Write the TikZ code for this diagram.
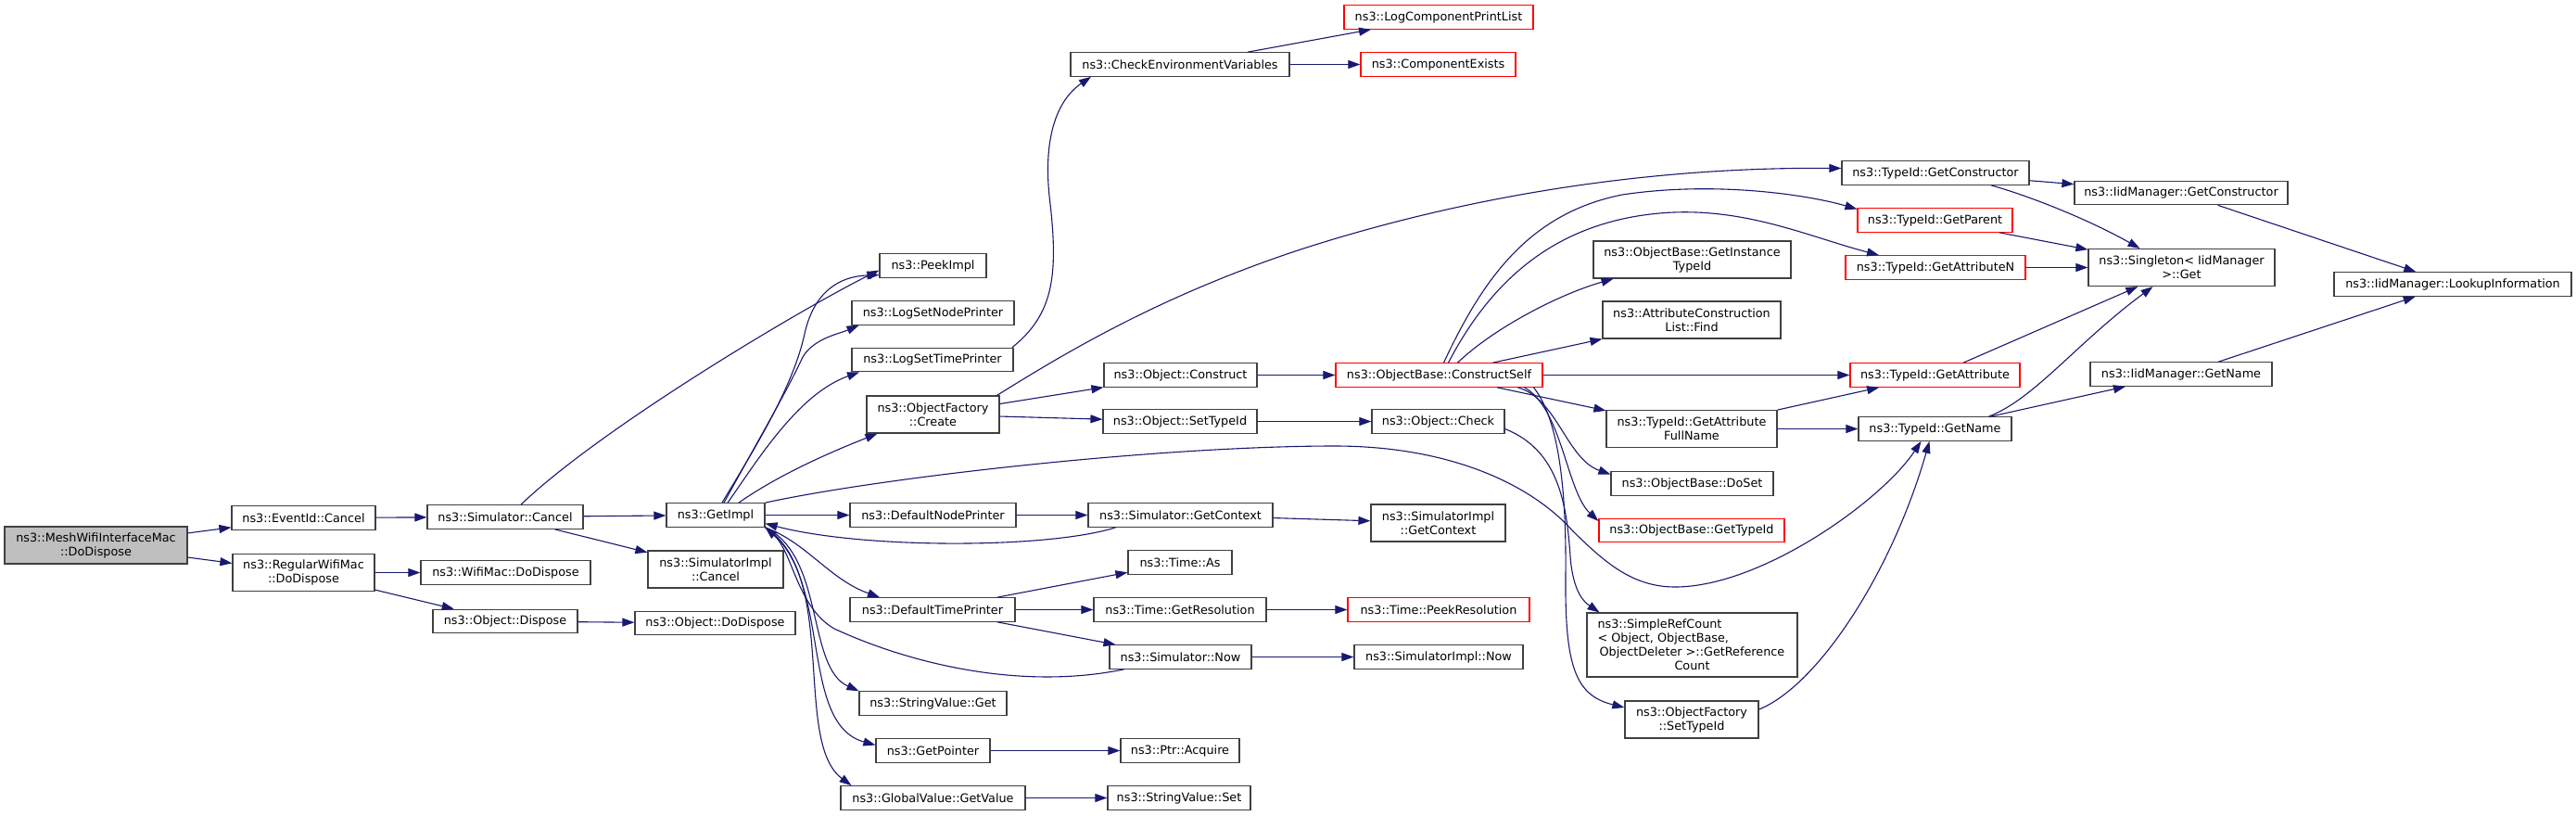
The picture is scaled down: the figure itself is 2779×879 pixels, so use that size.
\documentclass[tikz,border=0pt]{standalone}
\usepackage{fontspec}
\setmainfont{DejaVu Sans}
\usetikzlibrary{arrows.meta}

\definecolor{edgeblue}{RGB}{25,25,112}
\definecolor{boxgray}{RGB}{64,64,64}
\definecolor{rootfill}{RGB}{191,191,191}

\begin{document}
\begin{tikzpicture}[x=1pt, y=-1pt,
	fn/.style={draw=boxgray, line width=1.2pt, fill=white, inner sep=0pt, minimum height=25.5, align=center, font=\fontsize{12.8}{15}\selectfont},
	fnred/.style={fn, draw=red},
	fnroot/.style={fn, fill=rootfill},
	call/.style={draw=edgeblue, line width=1.1pt, -{Triangle[length=13pt, width=9pt]}}]

	\fill[white] (0, 0) rectangle (2779, 879);
	\useasboundingbox (0, 0) rectangle (2779, 879);

	\node[fnroot, minimum width=197, minimum height=40] (mesh) at (103.5, 588) {ns3::MeshWifiInterfaceMac\\::DoDispose};
	\node[fn, minimum width=155] (evcancel) at (327.5, 558.5) {ns3::EventId::Cancel};
	\node[fn, minimum width=153, minimum height=40] (regdispose) at (327.5, 617.5) {ns3::RegularWifiMac\\::DoDispose};
	\node[fn, minimum width=168] (simcancel) at (545, 557.5) {ns3::Simulator::Cancel};
	\node[fn, minimum width=183] (wifidispose) at (545.5, 617.5) {ns3::WifiMac::DoDispose};
	\node[fn, minimum width=156] (objdispose) at (545, 670) {ns3::Object::Dispose};
	\node[fn, minimum width=106] (getimpl) at (772, 555.5) {ns3::GetImpl};
	\node[fn, minimum width=146, minimum height=40] (simimplcancel) at (772, 614) {ns3::SimulatorImpl\\::Cancel};
	\node[fn, minimum width=173] (objdodispose) at (771.5, 672) {ns3::Object::DoDispose};

	\node[fn, minimum width=115] (peekimpl) at (1006.5, 286.5) {ns3::PeekImpl};
	\node[fn, minimum width=175] (logsetnode) at (1006.5, 337.5) {ns3::LogSetNodePrinter};
	\node[fn, minimum width=174] (logsettime) at (1006, 388) {ns3::LogSetTimePrinter};
	\node[fn, minimum width=143, minimum height=40] (ofcreate) at (1006.5, 447) {ns3::ObjectFactory\\::Create};
	\node[fn, minimum width=179] (defnodeprinter) at (1006.5, 555.5) {ns3::DefaultNodePrinter};
	\node[fn, minimum width=178] (deftimeprinter) at (1006, 657.5) {ns3::DefaultTimePrinter};
	\node[fn, minimum width=159] (strget) at (1006.5, 758.5) {ns3::StringValue::Get};
	\node[fn, minimum width=123] (getpointer) at (1006.5, 809.5) {ns3::GetPointer};
	\node[fn, minimum width=199] (globalgetvalue) at (1006.5, 860.5) {ns3::GlobalValue::GetValue};

	\node[fn, minimum width=236] (checkenv) at (1273, 69.5) {ns3::CheckEnvironmentVariables};
	\node[fn, minimum width=165] (objconstruct) at (1273.5, 404.5) {ns3::Object::Construct};
	\node[fn, minimum width=166] (objsettypeid) at (1273, 454.5) {ns3::Object::SetTypeId};
	\node[fn, minimum width=199] (simgetcontext) at (1273.5, 555.5) {ns3::Simulator::GetContext};
	\node[fn, minimum width=112] (timeas) at (1273, 606.5) {ns3::Time::As};
	\node[fn, minimum width=186] (timegetres) at (1273, 657.5) {ns3::Time::GetResolution};
	\node[fn, minimum width=153] (simnow) at (1273.5, 708.5) {ns3::Simulator::Now};
	\node[fn, minimum width=128] (ptracquire) at (1273, 809.5) {ns3::Ptr::Acquire};
	\node[fn, minimum width=154] (strset) at (1272, 860.5) {ns3::StringValue::Set};

	\node[fnred, minimum width=204] (logcomplist) at (1552, 18.5) {ns3::LogComponentPrintList};
	\node[fnred, minimum width=167] (compexists) at (1551.5, 69.5) {ns3::ComponentExists};
	\node[fnred, minimum width=223] (constructself) at (1552.5, 404.5) {ns3::ObjectBase::ConstructSelf};
	\node[fn, minimum width=143] (objcheck) at (1551.5, 454.5) {ns3::Object::Check};
	\node[fn, minimum width=145, minimum height=40] (simimplgetcontext) at (1551.5, 564) {ns3::SimulatorImpl\\::GetContext};
	\node[fnred, minimum width=196] (timepeekres) at (1552, 657.5) {ns3::Time::PeekResolution};
	\node[fn, minimum width=182] (simimplnow) at (1552, 708.5) {ns3::SimulatorImpl::Now};

	\node[fn, minimum width=213, minimum height=40] (getinstancetypeid) at (1825.5, 280) {ns3::ObjectBase::GetInstance\\TypeId};
	\node[fn, minimum width=192, minimum height=40] (attrfind) at (1825, 345) {ns3::AttributeConstruction\\List::Find};
	\node[fn, minimum width=184, minimum height=40] (getattrfullname) at (1825, 462.5) {ns3::TypeId::GetAttribute\\FullName};
	\node[fn, minimum width=175] (doset) at (1825.5, 521.5) {ns3::ObjectBase::DoSet};
	\node[fnred, minimum width=200] (obgettypeid) at (1825, 572) {ns3::ObjectBase::GetTypeId};
	\node[fn, minimum width=227, minimum height=69] (refcount) at (1825.5, 695.5) {\makebox[204pt][l]{ns3::SimpleRefCount}\\\makebox[204pt][l]{< Object, ObjectBase,}\\ObjectDeleter >::GetReference\\Count};
	\node[fn, minimum width=144, minimum height=40] (ofsettypeid) at (1825, 776) {ns3::ObjectFactory\\::SetTypeId};

	\node[fn, minimum width=202] (tgetconstructor) at (2088, 186.5) {ns3::TypeId::GetConstructor};
	\node[fnred, minimum width=167] (tgetparent) at (2087.5, 237.5) {ns3::TypeId::GetParent};
	\node[fnred, minimum width=194] (tgetattrn) at (2088, 288.5) {ns3::TypeId::GetAttributeN};
	\node[fnred, minimum width=183] (tgetattr) at (2087.5, 404.5) {ns3::TypeId::GetAttribute};
	\node[fn, minimum width=165] (tgetname) at (2087.5, 462.5) {ns3::TypeId::GetName};

	\node[fn, minimum width=230] (iidgetconstructor) at (2353, 208) {ns3::IidManager::GetConstructor};
	\node[fn, minimum width=201, minimum height=40] (singleton) at (2353.5, 288.5) {ns3::Singleton< IidManager\\>::Get};
	\node[fn, minimum width=196] (iidgetname) at (2353, 403.5) {ns3::IidManager::GetName};
	\node[fn, minimum width=256] (lookup) at (2646, 306.5) {ns3::IidManager::LookupInformation};

	\draw[call] (mesh) -- (evcancel);
	\draw[call] (mesh) -- (regdispose);
	\draw[call] (evcancel) -- (simcancel);
	\draw[call] (regdispose) -- (wifidispose);
	\draw[call] (regdispose) -- (objdispose);
	\draw[call] (objdispose) -- (objdodispose);
	\draw[call] (simcancel) -- (getimpl);
	\draw[call] (simcancel) -- (simimplcancel);
	\draw[call] ([xshift=17pt]simcancel.north) .. controls (650, 460) and (870, 330) .. ([yshift=-5pt]peekimpl.west);

	\draw[call] ([xshift=7pt]getimpl.north) .. controls (810, 490) and (855, 420) .. (868, 360) .. controls (878, 315) and (905, 298) .. ([yshift=-10pt]peekimpl.west);
	\draw[call] ([xshift=9pt]getimpl.north) .. controls (815, 480) and (850, 420) .. (866, 385) .. controls (878, 365) and (905, 360) .. ([xshift=-80pt]logsetnode.south);
	\draw[call] ([xshift=13pt]getimpl.north) .. controls (815, 500) and (860, 425) .. ([xshift=-79pt]logsettime.south);
	\draw[call] ([xshift=25pt]getimpl.north) .. controls (840, 512) and (895, 488) .. ([xshift=-60pt]ofcreate.south);
	\draw[call] (getimpl) -- (defnodeprinter);
	\draw[call] (getimpl.south east) .. controls (870, 585) and (895, 625) .. ([xshift=-57pt]deftimeprinter.north);
	\draw[call] (getimpl.south east) .. controls (890, 600) and (870, 720) .. (strget.north west);
	\draw[call] (getimpl.south east) .. controls (900, 620) and (860, 780) .. ([yshift=6pt]getpointer.west);
	\draw[call] (getimpl.south east) .. controls (905, 620) and (855, 800) .. ([xshift=-88pt]globalgetvalue.north);
	\draw[call] (getimpl.north east) .. controls (950, 515) and (1250, 481) .. (1440, 481) .. controls (1560, 481) and (1650, 520) .. (1697, 573) .. controls (1730, 605) and (1760, 633) .. (1807, 633) .. controls (1900, 633) and (2030, 540) .. ([xshift=-15pt]tgetname.south);

	\draw[call] (defnodeprinter) -- (simgetcontext);
	\draw[call] (simgetcontext) -- (simimplgetcontext);
	\draw[call] ([xshift=-70pt]simgetcontext.south) .. controls (1130, 592) and (930, 592) .. ([yshift=-9pt]getimpl.east);
	\draw[call] (deftimeprinter) -- (timeas);
	\draw[call] (deftimeprinter) -- (timegetres);
	\draw[call] (deftimeprinter) -- (simnow);
	\draw[call] (timegetres) -- (timepeekres);
	\draw[call] (simnow) -- (simimplnow);
	\draw[call] ([xshift=-61pt]simnow.south) .. controls (1100, 745) and (980, 715) .. (900, 678) .. controls (860, 655) and (855, 595) .. (getimpl.south east);
	\draw[call] (getpointer) -- (ptracquire);
	\draw[call] (globalgetvalue) -- (strset);

	\draw[call] ([xshift=86pt]logsettime.north) .. controls (1135, 340) and (1142, 300) .. (1133, 220) .. controls (1124, 150) and (1140, 108) .. ([xshift=-96pt]checkenv.south);
	\draw[call] (checkenv) -- (logcomplist);
	\draw[call] (checkenv) -- (compexists);
	\draw[call] (ofcreate) -- (objconstruct);
	\draw[call] (ofcreate) -- (objsettypeid);
	\draw[call] ([xshift=69pt]ofcreate.north) .. controls (1150, 380) and (1250, 320) .. (1400, 270) .. controls (1600, 205) and (1800, 180) .. ([yshift=5pt]tgetconstructor.west);
	\draw[call] (objconstruct) -- (constructself);
	\draw[call] (objsettypeid) -- (objcheck);
	\draw[call] ([yshift=-8pt]objcheck.east) .. controls (1680, 485) and (1690, 540) .. (1694, 600) .. controls (1697, 640) and (1710, 650) .. ([xshift=-100pt]refcount.north);

	\draw[call] ([xshift=5pt]constructself.north) .. controls (1600, 300) and (1650, 230) .. (1750, 210) .. controls (1850, 195) and (1950, 210) .. ([yshift=12pt]tgetparent.west);
	\draw[call] ([xshift=10pt]constructself.north) .. controls (1610, 300) and (1680, 240) .. (1790, 230) .. controls (1880, 222) and (1950, 255) .. ([xshift=-61pt]tgetattrn.north);
	\draw[call] ([xshift=20pt]constructself.north) .. controls (1610, 355) and (1680, 318) .. ([xshift=-85pt]getinstancetypeid.south);
	\draw[call] ([xshift=58pt]constructself.north) -- (attrfind.south west);
	\draw[call] (constructself) -- (tgetattr);
	\draw[call] (constructself) -- (getattrfullname);
	\draw[call] ([xshift=85pt]constructself.south) .. controls (1680, 430) and (1690, 495) .. ([yshift=10pt]doset.west);
	\draw[call] ([xshift=92pt]constructself.south) .. controls (1685, 440) and (1690, 530) .. ([yshift=10pt]obgettypeid.west);
	\draw[call] ([xshift=102pt]constructself.south) .. controls (1680, 450) and (1690, 520) .. (1689, 620) .. controls (1688, 720) and (1700, 750) .. ([yshift=13pt]ofsettypeid.west);

	\draw[call] (getattrfullname) -- (tgetattr);
	\draw[call] (getattrfullname) -- (tgetname);
	\draw[call] ([yshift=11pt]ofsettypeid.east) .. controls (1960, 740) and (2040, 620) .. ([xshift=-6pt]tgetname.south);
	\draw[call] (tgetconstructor) -- (iidgetconstructor);
	\draw[call] ([xshift=60pt]tgetconstructor.south) .. controls (2185, 210) and (2250, 235) .. ([xshift=-45pt]singleton.north);
	\draw[call] (tgetparent) -- (singleton);
	\draw[call] (tgetattrn) -- (singleton);
	\draw[call] (tgetattr) -- (singleton);
	\draw[call] ([xshift=58pt]tgetname.north) .. controls (2195, 430) and (2240, 370) .. ([xshift=-31pt]singleton.south);
	\draw[call] (tgetname) -- (iidgetname);
	\draw[call] (iidgetconstructor) -- (lookup);
	\draw[call] (iidgetname) -- (lookup);

\end{tikzpicture}
\end{document}
